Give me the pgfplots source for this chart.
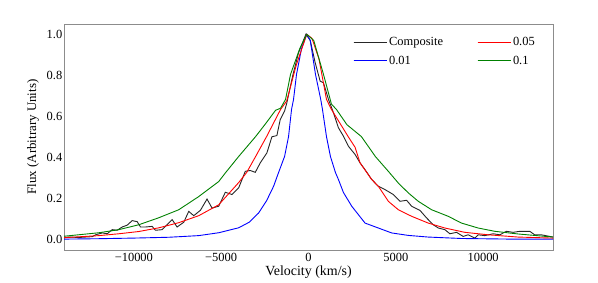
\documentclass[border=0pt]{standalone}
\usepackage{pgfplots}
\pgfplotsset{compat=1.18}
\usepackage{fontspec}
\setmainfont{Liberation Serif}
\definecolor{mplgreen}{RGB}{0,128,0}
\begin{document}
\begin{tikzpicture}[font=\fontsize{12.5}{14}\selectfont]
\path[use as bounding box] (-64bp,-33bp) rectangle (534bp,250bp);
\begin{axis}[
  scale only axis,
  width=489bp, height=226bp,
  font=\fontsize{12.5}{14}\selectfont,
  xmin=-14000, xmax=14000, ymin=-0.05, ymax=1.05,
  scaled x ticks=false, scaled y ticks=false,
  axis line style={black!45, line width=0.8bp},
  major tick length=0pt,
  xtick={-10000,-5000,0,5000,10000},
  xticklabels={−10000,−5000,0,5000,10000},
  ytick={0,0.2,0.4,0.6,0.8,1.0},
  yticklabels={0.0,0.2,0.4,0.6,0.8,1.0},
  tick label style={font=\fontsize{12.5}{14}\selectfont},
  yticklabel style={inner xsep=1.5bp},
  xticklabel style={inner ysep=3bp},
  every axis y label/.style={at={(axis description cs:-0.0634,0.5)}, rotate=90, anchor=center, font=\fontsize{13}{15}\selectfont},
  every axis x label/.style={at={(axis description cs:0.5,-0.1)}, anchor=center, font=\fontsize{14}{16}\selectfont},
  xlabel={Velocity (km/s)},
  ylabel={Flux (Arbitrary Units)},
  legend columns=2,
  transpose legend,
  legend cell align=left,
  legend image code/.code={\draw[#1] (0bp,0bp) -- (28bp,0bp); \path (0bp,0bp) -- (33bp,0bp);},
  legend style={draw=none, fill=none, at={(rel axis cs:0.585,0.96)}, anchor=north west,
    font=\fontsize{12.5}{14}\selectfont,
    row sep=5bp, /tikz/every even column/.append style={column sep=32bp}},
  every axis plot/.append style={line width=0.9bp},
]
% Composite
\addplot[black!85] coordinates {
(-14000,0.010) (-13714,0.013) (-13143,0.011) (-12381,0.015) (-12190,0.024) (-11810,0.033)
(-11524,0.029) (-11238,0.049) (-10952,0.046) (-10667,0.062) (-10381,0.071) (-10095,0.093)
(-9810,0.088) (-9619,0.062) (-9333,0.062) (-8952,0.065) (-8762,0.046) (-8381,0.049)
(-7810,0.098) (-7524,0.062) (-7143,0.085) (-6857,0.138) (-6571,0.117) (-6190,0.143)
(-5810,0.198) (-5524,0.154) (-5143,0.163) (-4762,0.231) (-4381,0.220) (-4000,0.252)
(-3619,0.333) (-3333,0.337) (-3048,0.328) (-2762,0.374) (-2381,0.423) (-2095,0.501)
(-1810,0.507) (-1619,0.585) (-1371,0.626) (-1238,0.667) (-900,0.80) (-571,0.91)
(-150,1.0) (100,0.97) (381,0.862) (667,0.772) (857,0.764) (1143,0.683) (1429,0.618)
(1714,0.545) (2000,0.504) (2286,0.455) (2667,0.415) (2952,0.374) (3238,0.341)
(3619,0.293) (4000,0.260) (4381,0.244) (4857,0.220) (5238,0.187) (5619,0.192)
(5905,0.163) (6381,0.143) (6762,0.106) (7143,0.073) (7429,0.057) (7810,0.049)
(8095,0.029) (8476,0.036) (8857,0.016) (9143,0.024) (9524,0.008) (9714,0.024)
(10095,0.020) (10571,0.029) (10952,0.024) (11333,0.041) (11714,0.036) (12095,0.041)
(12667,0.041) (12952,0.024) (13333,0.024) (14000,0.013)
};
\addlegendentry{Composite}
% 0.01
\addplot[blue] coordinates {
(-14000,0.003) (-12000,0.005) (-10000,0.008) (-8000,0.012) (-6286,0.020) (-5143,0.034)
(-4000,0.058) (-3400,0.085) (-2857,0.130) (-2400,0.190) (-2000,0.260) (-1714,0.327)
(-1371,0.405) (-1143,0.502) (-971,0.634) (-857,0.683) (-686,0.805) (-400,0.93)
(-100,1.0) (100,0.97) (400,0.805) (700,0.683) (800,0.634) (1029,0.502) (1257,0.405)
(1543,0.327) (1714,0.293) (2000,0.230) (2476,0.163) (3238,0.081) (4000,0.057)
(4762,0.033) (5714,0.021) (6857,0.013) (8762,0.006) (11600,0.003) (14000,0.003)
};
\addlegendentry{0.01}
% 0.05
\addplot[red] coordinates {
(-14000,0.010) (-12000,0.020) (-10857,0.029) (-9714,0.040) (-8571,0.058) (-7429,0.083)
(-6286,0.117) (-5143,0.170) (-4000,0.278) (-3543,0.327) (-3029,0.405) (-2400,0.502)
(-1600,0.634) (-1250,0.675) (-700,0.85) (-100,1.0) (200,0.98) (600,0.88) (1029,0.683)
(1314,0.634) (2286,0.500) (2667,0.450) (2952,0.374) (3619,0.293) (4000,0.260)
(4571,0.187) (5143,0.146) (5905,0.114) (6857,0.081) (7810,0.057) (8952,0.036)
(10286,0.024) (12000,0.013) (14000,0.008)
};
\addlegendentry{0.05}
% 0.1
\addplot[mplgreen] coordinates {
(-14000,0.017) (-12000,0.034) (-10857,0.049) (-9714,0.073) (-8571,0.107) (-7429,0.146)
(-6286,0.210) (-5143,0.283) (-4743,0.327) (-4000,0.405) (-3029,0.502) (-2500,0.560)
(-1886,0.630) (-1600,0.640) (-1314,0.683) (-1029,0.805) (-500,0.93) (-100,1.0)
(300,0.97) (857,0.805) (1314,0.660) (1600,0.634) (2200,0.560) (3029,0.502)
(3829,0.405) (4571,0.333) (5143,0.276) (5714,0.228) (6286,0.187) (7048,0.146)
(8000,0.114) (8762,0.081) (9714,0.057) (10667,0.041) (12000,0.028) (14000,0.013)
};
\addlegendentry{0.1}
\end{axis}
\end{tikzpicture}
\end{document}
